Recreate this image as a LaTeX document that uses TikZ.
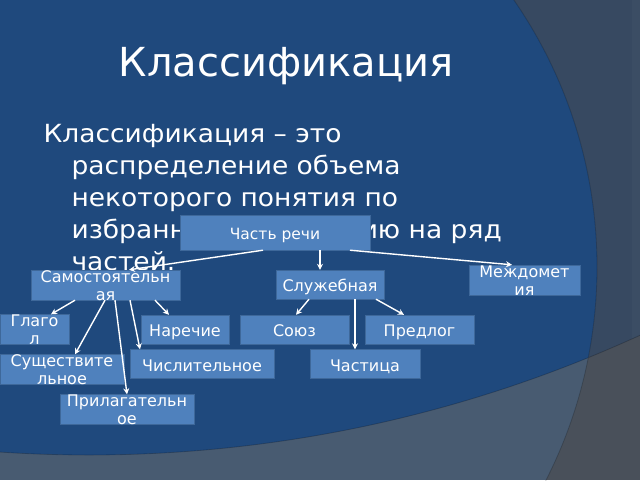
\documentclass[tikz,border=0pt]{standalone}
\usepackage{fontspec}
\setmainfont{DejaVu Sans}
\newfontfamily\widefont[FakeStretch=1.06]{DejaVu Sans}
\usetikzlibrary{arrows.meta}
\definecolor{slidebase}{RGB}{73,80,90}
\definecolor{ringlow}{RGB}{72,91,113}
\definecolor{ringhigh}{RGB}{55,73,97}
\definecolor{ringstrip}{RGB}{59,77,100}
\definecolor{slideblue}{RGB}{31,73,125}
\definecolor{boxfill}{RGB}{79,129,189}
\definecolor{boxedge}{RGB}{62,104,154}

\begin{document}
\begin{tikzpicture}[x=1pt,y=-1pt,
  part/.style={draw=boxedge,fill=boxfill,text=white,inner sep=0pt,align=center,
    font=\fontsize{16}{18}\selectfont,text height=21.7pt,text depth=7.3pt},
  wrapped/.style={text height=30pt,text depth=0pt},
  link/.style={white,line width=1.4pt,-{Stealth[length=6pt,width=6pt]}}]
\useasboundingbox (0,0) rectangle (640,480);
% background rings
\begin{scope}
\clip (0,0) rectangle (640,480);
\fill[slidebase] (0,0) rectangle (640,480);
\begin{scope}
\clip (89,-869) circle[radius=1324pt];
\fill[ringhigh] (0,0) rectangle (640,480);
\fill[ringstrip] (632,0) rectangle (640,480);
\end{scope}
\begin{scope}
\clip (127,267) circle[radius=470pt];
\fill[ringlow] (0,0) rectangle (640,480);
\clip (89,-869) circle[radius=1324pt];
\fill[slideblue] (0,0) rectangle (640,480);
\end{scope}
\draw[black,opacity=0.2,line width=0.8pt] (89,-869) circle[radius=1324pt] (127,267) circle[radius=470pt];
\end{scope}
% texts
\draw (286,76) node[anchor=base,text=white,font=\fontsize{40}{48}\selectfont](title) {Классификация};
\draw (40,270) node[anchor=base west,text=white,align=left,font=\widefont\fontsize{25}{32}\selectfont](definition)
  {Классификация – это\\\hspace*{28pt}распределение объема\\\hspace*{28pt}некоторого понятия по\\\hspace*{28pt}избранному основанию на ряд\\\hspace*{28pt}частей.};
% boxes
\draw (275,232.5) node[part,minimum width=190pt,font=\fontsize{15.5}{17}\selectfont,text height=24pt,text depth=11pt](speech) {Часть речи};
\draw (105.5,285) node[part,wrapped,minimum width=149pt](indep) {Самостоятельн\\ая};
\draw (330,284.5) node[part,minimum width=108pt](aux) {Служебная};
\draw (524.5,280) node[part,wrapped,minimum width=111pt](interj) {Междомет\\ия};
\draw (34.5,329.5) node[part,wrapped,minimum width=69pt](verb) {Глаго\\л};
\draw (185,329.5) node[part,minimum width=88pt](adverb) {Наречие};
\draw (294.5,329.5) node[part,minimum width=109pt](conj) {Союз};
\draw (419.5,329.5) node[part,minimum width=109pt](prep) {Предлог};
\draw (62,369.5) node[part,wrapped,minimum width=124pt](noun) {Существите\\льное};
\draw (202,364) node[part,minimum width=144pt](numeral) {Числительное};
\draw (365,364) node[part,minimum width=110pt](particle) {Частица};
\draw (127,409.5) node[part,wrapped,minimum width=134pt](adj) {Прилагательн\\ое};
% arrows
\draw[link] ([xshift=-12pt]speech.south) -- ([xshift=23.5pt]indep.north);
\draw[link] ([xshift=45pt]speech.south) -- ([xshift=-10pt]aux.north);
\draw[link] ([xshift=75pt]speech.south) -- ([xshift=-12.5pt]interj.north);
\draw[link] ([xshift=-30.5pt]indep.south) -- ([xshift=16.5pt]verb.north);
\draw[link] ([xshift=-0.5pt]indep.south) -- ([xshift=13pt]noun.north);
\draw[link] ([xshift=9.5pt]indep.south) -- (adj.north);
\draw[link] ([xshift=24.5pt]indep.south) -- ([xshift=-62pt]numeral.north);
\draw[link] ([xshift=49.5pt]indep.south) -- ([xshift=-16pt]adverb.north);
\draw[link] ([xshift=-21pt]aux.south) -- ([xshift=1.5pt]conj.north);
\draw[link] ([xshift=25pt]aux.south) -- ([xshift=-10pt]particle.north);
\draw[link] ([xshift=46pt]aux.south) -- ([xshift=-15.5pt]prep.north);
\end{tikzpicture}
\end{document}
